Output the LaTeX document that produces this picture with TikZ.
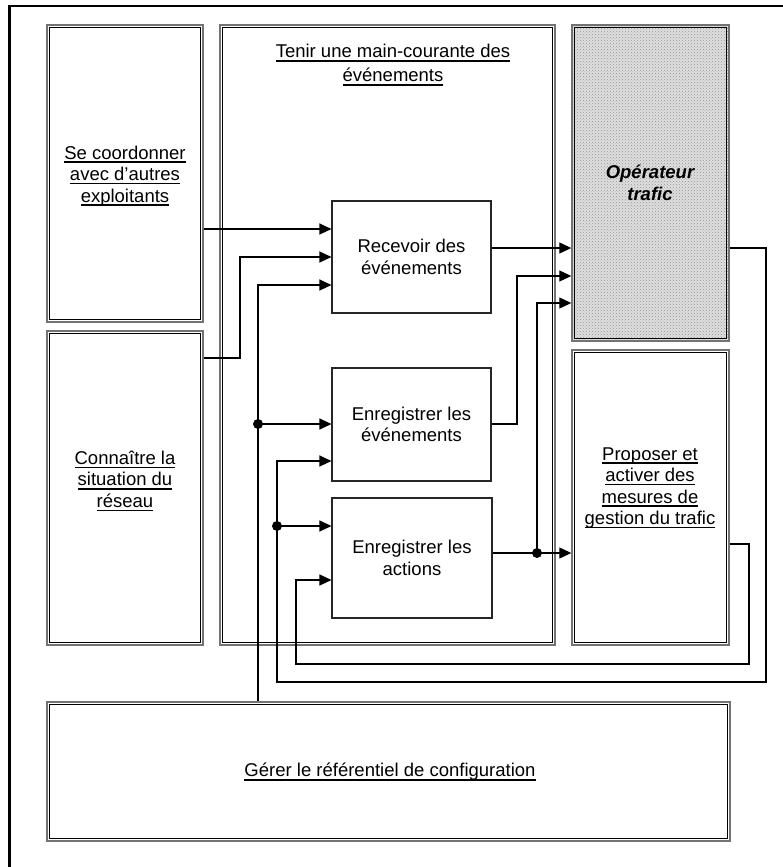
\documentclass[tikz,border=0pt]{standalone}
\usepackage{fontspec}
\setmainfont{Liberation Sans}
\usetikzlibrary{arrows.meta,patterns}
\newcommand\ulx[1]{\setbox0\hbox{#1}\rlap{\rule[-3.6pt]{\wd0}{1.4pt}}\box0}
\begin{document}
\begin{tikzpicture}[x=1pt,y=-1pt,
 every node/.style={font=\fontsize{18.5}{21.5}\selectfont, inner sep=0pt, align=center},
 dbl/.style={draw=black!55, line width=1.4pt, rectangle},
 innerline/.style={draw=black, line width=1.1pt},
 proc/.style={draw=black!85, line width=1.1pt, rectangle},
 conn/.style={draw=black, line width=1.1pt},
 arr/.style={conn, -{Triangle[length=12pt,width=11pt]}},
 jdot/.style={circle, fill=black, minimum size=10pt, inner sep=0pt}]
\useasboundingbox (0,0) rectangle (782,867);
% outer frame
\draw[line width=2.5pt] (9.3,875) -- (9.3,6.2) -- (790,6.2);
% big boxes
\node[dbl, minimum width=156pt, minimum height=297pt] (A) at (125,173.5) {};
\node[dbl, minimum width=156pt, minimum height=314pt] (B) at (125,488) {};
\node[dbl, minimum width=335pt, minimum height=620pt] (C) at (387.5,335) {};
\node[dbl, minimum width=157pt, minimum height=316pt, preaction={fill=gray!25}, pattern=crosshatch dots, pattern color=gray!85] (D) at (650.5,183) {};
\node[dbl, minimum width=157pt, minimum height=295pt] (E) at (650.5,497.5) {};
\node[dbl, minimum width=683pt, minimum height=139pt] (F) at (388.5,771.5) {};
\foreach \n in {A,B,C,D,E,F}
  \draw[innerline] ([shift={(2.8,2.8)}]\n.north west) rectangle ([shift={(-2.8,-2.8)}]\n.south east);
% texts of big boxes
\node (At) at (125,176) {\ulx{Se coordonner}\\\ulx{avec d’autres}\\\ulx{exploitants}};
\node (Bt) at (125,481) {\ulx{Connaître la}\\\ulx{situation du}\\\ulx{réseau}};
\node[font=\fontsize{18.5}{24}\selectfont] (Ct) at (393,65) {\ulx{Tenir une main-courante des}\\\ulx{événements}};
\node[font=\fontsize{18.5}{21.5}\selectfont\bfseries\itshape] (Dt) at (650,183) {Opérateur\\trafic};
\node (Et) at (650,488) {\ulx{Proposer et}\\\ulx{activer des}\\\ulx{mesures de}\\\ulx{gestion du trafic}};
\node (Ft) at (390,772) {\ulx{Gérer le référentiel de configuration}};
% process boxes
\node[proc, minimum width=159pt, minimum height=112pt] (R1) at (411.5,257) {Recevoir des\\événements};
\node[proc, minimum width=159pt, minimum height=113pt] (R2) at (411.5,424.5) {Enregistrer les\\événements};
\node[proc, minimum width=160pt, minimum height=120pt] (R3) at (412,558) {Enregistrer les\\actions};
% junction dots
\node[jdot] (j1) at (258,424) {};
\node[jdot] (j2) at (277,526) {};
\node[jdot] (j3) at (537,553) {};
% connectors
\draw[arr] (A.east |- 0,229) -- (R1.west |- 0,229);
\draw[arr] (B.east |- 0,358) -| (240,257) -- (R1.west |- 0,257);
\draw[arr] (F.north -| 258,0) |- (R1.west |- 0,285);
\draw[arr] (j1.center) -- (R2.west |- j1);
\draw[arr] (R1.east |- 0,248) -- (D.west |- 0,248);
\draw[arr] (R2.east |- 0,424) -| (517,276) -- (D.west |- 0,276);
\draw[conn] (R3.east |- j3) -- (j3.center);
\draw[arr] (j3.center) -- (E.west |- j3);
\draw[arr] (j3.center) |- (D.west |- 0,303);
\draw[arr] (D.east |- 0,248) -| (766,682) -| (277,461) -- (R2.west |- 0,461);
\draw[arr] (j2.center) -- (R3.west |- j2);
\draw[arr] (E.east |- 0,544) -| (749,664) -| (296,580) -- (R3.west |- 0,580);
\end{tikzpicture}
\end{document}
